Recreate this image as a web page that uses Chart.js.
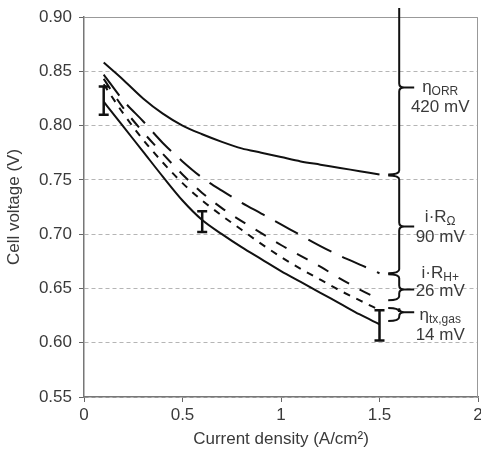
<!DOCTYPE html>
<html>
<head>
<meta charset="utf-8">
<script src="https://cdn.jsdelivr.net/npm/chart.js@4/dist/chart.umd.min.js"></script>
<style>
  body { margin: 0; background: #fff; }
  canvas { display: block; }
</style>
</head>
<body>
<canvas id="polCanvas" width="481" height="457"></canvas>
<script>
// ========== DATA ==========
const currentDensity = [0.1, 0.2, 0.3, 0.4, 0.5, 0.6, 0.7, 0.8, 0.9, 1.0, 1.1, 1.2, 1.3, 1.4, 1.5];
const vNoOrr   = [0.858, 0.842, 0.825, 0.811, 0.800, 0.792, 0.785, 0.779, 0.775, 0.771, 0.767, 0.764, 0.761, 0.758, 0.755];
const vNoOhm   = [0.847, 0.823, 0.804, 0.784, 0.767, 0.752, 0.740, 0.729, 0.719, 0.709, 0.699, 0.689, 0.680, 0.672, 0.664];
const vNoHplus = [0.843, 0.816, 0.794, 0.774, 0.755, 0.738, 0.724, 0.712, 0.701, 0.690, 0.680, 0.670, 0.659, 0.649, 0.640];
const vNoGas   = [0.838, 0.811, 0.787, 0.766, 0.747, 0.731, 0.717, 0.704, 0.691, 0.679, 0.668, 0.658, 0.648, 0.639, 0.630];
const vMeasured = [0.822, 0.799, 0.776, 0.753, 0.731, 0.713, 0.700, 0.688, 0.677, 0.666, 0.656, 0.646, 0.636, 0.626, 0.617];

const errX    = [0.1, 0.6, 1.5];
const errLow  = [0.810, 0.702, 0.602];
const errHigh = [0.836, 0.721, 0.630];

const yTicks = [0.55, 0.60, 0.65, 0.70, 0.75, 0.80, 0.85, 0.90];
const xTicks = [0, 0.5, 1, 1.5, 2];

// loss brackets (volts)
const bracketAt  = 1.6;
const bracketTop = [0.960, 0.755, 0.664, 0.633];
const bracketBot = [0.755, 0.664, 0.639, 0.620];
const bracketTip = [0.835, 0.707, 0.649, 0.628];
const lossMain  = ['η', 'i·R', 'i·R', 'η'];
const lossSub   = ['ORR', 'Ω', 'H+', 'tx,gas'];
const lossValue = ['420 mV', '90 mV', '26 mV', '14 mV'];

// ========== HELPERS ==========
const INK = '#111';
const TXT = '#3a3a3a';
const FONT = "'Liberation Sans', Arial, sans-serif";

function pts(ys) {
    return currentDensity.map((x, i) => ({ x: x, y: ys[i] }));
}

function lineSet(ys, dash) {
    return {
        data: pts(ys),
        showLine: true,
        borderColor: INK,
        borderWidth: 2,
        borderDash: dash,
        pointRadius: 0,
        tension: 0.4,
        cubicInterpolationMode: 'monotone',
        fill: false
    };
}

function drawBrace(ctx, x, yTop, yBot, yTip, clipTop) {
    ctx.beginPath();
    if (clipTop) {
        ctx.moveTo(x, yTop);
    } else {
        ctx.moveTo(x - 11, yTop);
        ctx.quadraticCurveTo(x, yTop, x, yTop + 4);
    }
    ctx.lineTo(x, yTip - 4);
    ctx.quadraticCurveTo(x, yTip, x + 5, yTip);
    ctx.quadraticCurveTo(x, yTip, x, yTip + 4);
    ctx.lineTo(x, yBot - 4);
    ctx.quadraticCurveTo(x, yBot, x - 11, yBot);
    ctx.moveTo(x + 4, yTip);
    ctx.lineTo(x + 15, yTip);
    ctx.stroke();
}

const line1Dy = [0, -9, -16, 3];
const line2Dy = [20, 11, 2, 23];

const annotPlugin = {
    id: 'annot',
    afterDatasetsDraw(chart) {
        const ctx = chart.ctx;
        const xs = chart.scales.x, ys = chart.scales.y;
        const ca = chart.chartArea;
        ctx.save();

        // frame top/right
        ctx.strokeStyle = '#999';
        ctx.lineWidth = 1;
        ctx.beginPath();
        ctx.moveTo(ca.left, ca.top + 0.5);
        ctx.lineTo(ca.right - 0.5, ca.top + 0.5);
        ctx.lineTo(ca.right - 0.5, ca.bottom);
        ctx.stroke();

        // error bars
        ctx.strokeStyle = INK;
        ctx.lineWidth = 2.5;
        errX.forEach((v, i) => {
            const px = xs.getPixelForValue(v);
            const lo = ys.getPixelForValue(errLow[i]);
            const hi = ys.getPixelForValue(errHigh[i]);
            ctx.beginPath();
            ctx.moveTo(px, lo); ctx.lineTo(px, hi);
            ctx.moveTo(px - 5, lo); ctx.lineTo(px + 5, lo);
            ctx.moveTo(px - 5, hi); ctx.lineTo(px + 5, hi);
            ctx.stroke();
        });

        // braces
        const bx = xs.getPixelForValue(bracketAt);
        ctx.lineWidth = 2;
        ctx.save();
        ctx.beginPath();
        ctx.rect(0, 8, chart.width, chart.height);
        ctx.clip();
        bracketTop.forEach((t, i) => {
            drawBrace(ctx, bx,
                ys.getPixelForValue(t) + (i === 0 ? 0 : 1),
                ys.getPixelForValue(bracketBot[i]),
                ys.getPixelForValue(bracketTip[i]),
                i === 0);
        });
        ctx.restore();

        // labels
        ctx.fillStyle = TXT;
        ctx.textBaseline = 'middle';
        const cx = bx + 41;
        lossMain.forEach((m, i) => {
            const ty = ys.getPixelForValue(bracketTip[i]);
            ctx.font = '17px ' + FONT;
            const wm = ctx.measureText(m).width;
            ctx.font = '12px ' + FONT;
            const wsub = ctx.measureText(lossSub[i]).width;
            const x0 = cx - (wm + wsub) / 2;
            const y1 = ty + line1Dy[i];
            ctx.textAlign = 'left';
            ctx.font = '17px ' + FONT;
            ctx.fillText(m, x0, y1);
            ctx.font = '12px ' + FONT;
            ctx.fillText(lossSub[i], x0 + wm, y1 + 4);
            ctx.font = '17px ' + FONT;
            ctx.textAlign = 'center';
            ctx.fillText(lossValue[i], cx, ty + line2Dy[i]);
        });
        ctx.restore();
    }
};

// ========== CHART ==========
const chart = new Chart(document.getElementById('polCanvas'), {
    type: 'scatter',
    data: {
        datasets: [
            lineSet(vNoOrr, []),
            lineSet(vNoOhm, [26, 12]),
            lineSet(vNoHplus, [12, 12]),
            lineSet(vNoGas, [7, 7]),
            lineSet(vMeasured, [])
        ]
    },
    options: {
        responsive: false,
        animation: false,
        layout: { padding: { top: 17, right: 3, left: 0, bottom: 0 }, autoPadding: false },
        plugins: { legend: { display: false }, tooltip: { enabled: false } },
        scales: {
            x: {
                type: 'linear',
                min: 0, max: 2,
                afterFit: (s) => { s.height = 60; s.paddingLeft = 0; s.paddingRight = 0; },
                afterBuildTicks: (s) => { s.ticks = xTicks.map(v => ({ value: v })); },
                ticks: {
                    color: TXT,
                    font: { family: FONT, size: 17 },
                    padding: 3,
                    maxRotation: 0,
                    callback: (v) => String(v)
                },
                grid: { drawOnChartArea: false, drawTicks: true, tickLength: 5, tickColor: '#666' },
                border: { color: '#777', width: 1.5 },
                title: {
                    display: true,
                    text: 'Current density (A/cm²)',
                    color: TXT,
                    font: { family: FONT, size: 17 },
                    padding: { top: 4, bottom: 7 }
                }
            },
            y: {
                type: 'linear',
                min: 0.55, max: 0.90,
                afterFit: (s) => { s.width = 84; s.paddingTop = 0; s.paddingBottom = 0; },
                afterBuildTicks: (s) => { s.ticks = yTicks.map(v => ({ value: v })); },
                ticks: {
                    color: TXT,
                    font: { family: FONT, size: 17 },
                    padding: 7,
                    callback: (v) => Number(v).toFixed(2)
                },
                grid: {
                    color: '#b5b5b5',
                    lineWidth: 1,
                    tickLength: 5,
                    tickColor: '#666',
                    tickBorderDash: []
                },
                border: { color: '#777', width: 1.5, dash: [4, 3] },
                title: {
                    display: true,
                    text: 'Cell voltage (V)',
                    color: TXT,
                    font: { family: FONT, size: 17 },
                    padding: { top: 4, bottom: 4 }
                }
            }
        }
    },
    plugins: [annotPlugin]
});
</script>
</body>
</html>
